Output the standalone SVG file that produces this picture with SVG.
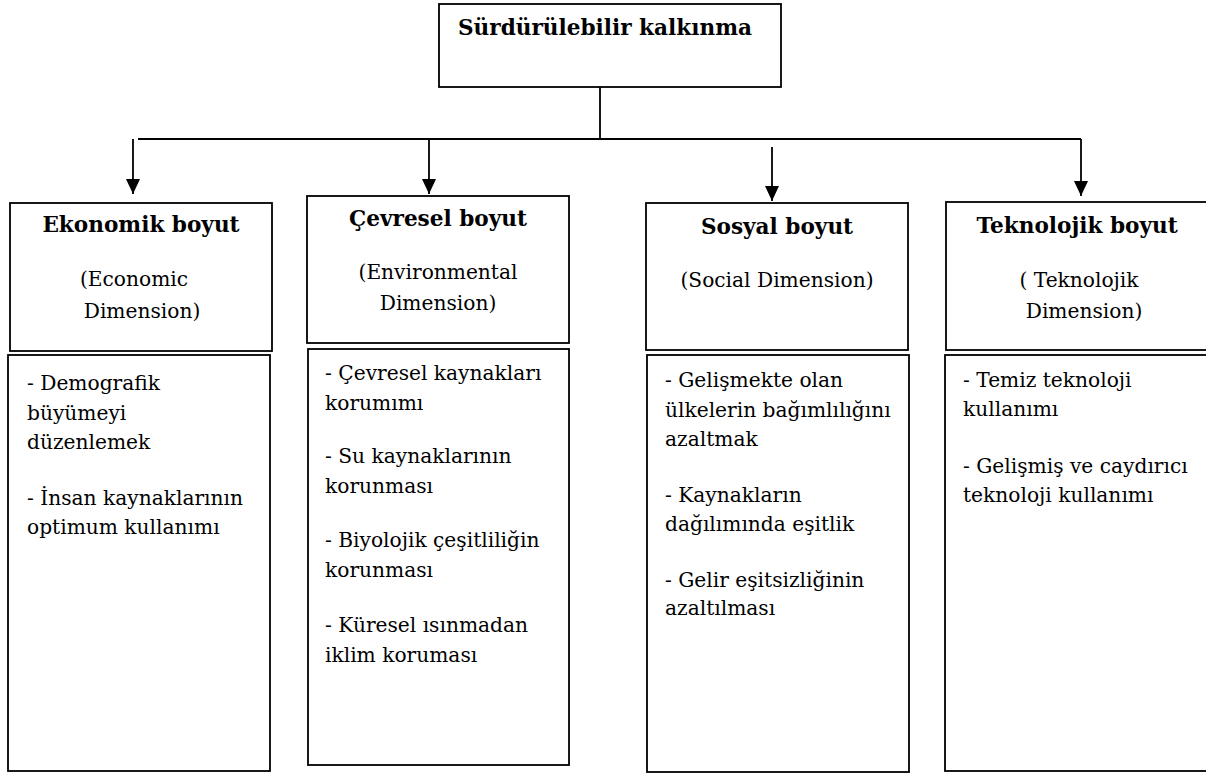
<svg xmlns="http://www.w3.org/2000/svg" width="1206" height="773" viewBox="0 0 1206 773">
<defs>
<marker id="arr" markerUnits="userSpaceOnUse" markerWidth="15" markerHeight="14" refX="15" refY="7" orient="auto" viewBox="0 0 15 14">
<path d="M0,0 L15,7 L0,14 z" fill="#000"/>
</marker>
<style>
.box{fill:#fff;stroke:#000;stroke-width:1.8}
.t{font-family:"DejaVu Serif","Liberation Serif",serif;font-size:20.2px;fill:#000}
.b{font-weight:bold;text-anchor:middle;font-size:21.6px}
.c{text-anchor:middle}
.ln{fill:none;stroke:#000;stroke-width:1.8}
</style>
</defs>
<rect width="1206" height="773" fill="#fff"/>
<g id="connectors">
<path class="ln" d="M600,87 V139"/>
<path class="ln" d="M138,139 H1081"/>
<path class="ln" d="M133,139 V194" marker-end="url(#arr)"/>
<path class="ln" d="M429,139 V194" marker-end="url(#arr)"/>
<path class="ln" d="M772,147 V201" marker-end="url(#arr)"/>
<path class="ln" d="M1081,139 V196" marker-end="url(#arr)"/>
</g>
<g id="root">
<rect class="box" x="439" y="4" width="342" height="83"/>
<text class="t b" x="605" y="35">Sürdürülebilir kalkınma</text>
</g>
<g id="ekonomik">
<rect class="box" x="10" y="203" width="262" height="148"/>
<text class="t b" x="141" y="232">Ekonomik boyut</text>
<text class="t c" x="134" y="286">(Economic</text>
<text class="t c" x="142" y="318">Dimension)</text>
</g>
<g id="ekonomik-items">
<rect class="box" x="8" y="355" width="262" height="416"/>
<text class="t" x="27" y="390">- Demografik</text>
<text class="t" x="27" y="420">büyümeyi</text>
<text class="t" x="27" y="449">düzenlemek</text>
<text class="t" x="27" y="505">- İnsan kaynaklarının</text>
<text class="t" x="27" y="534">optimum kullanımı</text>
</g>
<g id="cevresel">
<rect class="box" x="307" y="196" width="262" height="147"/>
<text class="t b" x="438" y="226">Çevresel boyut</text>
<text class="t c" x="438" y="279">(Environmental</text>
<text class="t c" x="438" y="310">Dimension)</text>
</g>
<g id="cevresel-items">
<rect class="box" x="308" y="349" width="261" height="416"/>
<text class="t" x="325" y="380">- Çevresel kaynakları</text>
<text class="t" x="325" y="410">korumımı</text>
<text class="t" x="325" y="463">- Su kaynaklarının</text>
<text class="t" x="325" y="493">korunması</text>
<text class="t" x="325" y="547">- Biyolojik çeşitliliğin</text>
<text class="t" x="325" y="577">korunması</text>
<text class="t" x="325" y="632">- Küresel ısınmadan</text>
<text class="t" x="325" y="662">iklim koruması</text>
</g>
<g id="sosyal">
<rect class="box" x="646" y="203" width="262" height="147"/>
<text class="t b" x="777" y="234">Sosyal boyut</text>
<text class="t c" x="777" y="287">(Social Dimension)</text>
</g>
<g id="sosyal-items">
<rect class="box" x="647" y="355" width="262" height="417"/>
<text class="t" x="665" y="387">- Gelişmekte olan</text>
<text class="t" x="665" y="417">ülkelerin bağımlılığını</text>
<text class="t" x="665" y="446">azaltmak</text>
<text class="t" x="665" y="502">- Kaynakların</text>
<text class="t" x="665" y="531">dağılımında eşitlik</text>
<text class="t" x="665" y="587">- Gelir eşitsizliğinin</text>
<text class="t" x="665" y="615">azaltılması</text>
</g>
<g id="teknolojik">
<rect class="box" x="946" y="202" width="270" height="148"/>
<text class="t b" x="1077" y="233">Teknolojik boyut</text>
<text class="t c" x="1079" y="287">( Teknolojik</text>
<text class="t c" x="1084" y="318">Dimension)</text>
</g>
<g id="teknolojik-items">
<rect class="box" x="945" y="355" width="270" height="416"/>
<text class="t" x="963" y="387">- Temiz teknoloji</text>
<text class="t" x="963" y="416">kullanımı</text>
<text class="t" x="963" y="473">- Gelişmiş ve caydırıcı</text>
<text class="t" x="963" y="502">teknoloji kullanımı</text>
</g>
</svg>
